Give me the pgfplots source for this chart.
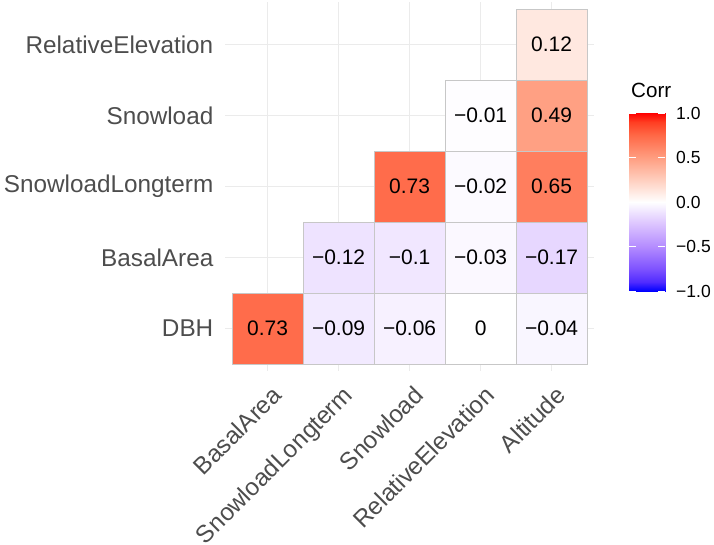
\documentclass[border=0pt]{standalone}
\usepackage{fontspec}
\setmainfont{Liberation Sans}
\usepackage{pgfplots}
\pgfplotsset{compat=1.18}
\definecolor{gridc}{HTML}{EBEBEB}
\definecolor{axtext}{HTML}{4D4D4D}
\pgfplotsset{
  colormap={corr}{rgb255(0cm)=(0,0,255) rgb255(1cm)=(80,43,255) rgb255(2.5cm)=(126,82,255)
    rgb255(5cm)=(179,139,255) rgb255(7.5cm)=(220,196,255) rgb255(10cm)=(255,255,255)
    rgb255(12.5cm)=(255,207,191) rgb255(15cm)=(255,158,129) rgb255(17.5cm)=(255,104,70)
    rgb255(19cm)=(255,62,34) rgb255(20cm)=(255,0,0)}
}
\begin{document}
\begin{tikzpicture}
\useasboundingbox (0,0) rectangle (714pt,-544pt);
\begin{axis}[
  at={(225pt,-371.2pt)}, anchor=south west,
  scale only axis, width=369.2pt, height=369.2pt,
  xmin=0.4, xmax=5.6, ymin=0.4, ymax=5.6,
  xtick={1,2,3,4,5}, ytick={1,2,3,4,5},
  xticklabels={BasalArea,SnowloadLongterm,Snowload,RelativeElevation,Altitude},
  yticklabels={DBH,BasalArea,SnowloadLongterm,Snowload,RelativeElevation},
  grid=major, major grid style={gridc, line width=1.5pt},
  axis line style={draw=none}, major tick length=0pt,
  xticklabel style={xshift=3pt, yshift=-13pt, rotate=45, anchor=north east, inner sep=0pt,
    font=\fontsize{24.3}{29}\selectfont, text=axtext},
  yticklabel style={anchor=east, inner sep=0pt, xshift=-11.5pt,
    font=\fontsize{24.3}{29}\selectfont, text=axtext},
  colormap name=corr,
  point meta min=-1, point meta max=1,
]
\addplot[scatter, only marks, mark=square*, mark size=35.5pt, point meta=explicit,
  scatter/use mapped color={draw=black!22, fill=mapped color},
  mark options={line width=0.8pt}] table[meta=c] {
x y c
1 1 0.73
2 1 -0.09
3 1 -0.06
4 1 0
5 1 -0.04
2 2 -0.12
3 2 -0.1
4 2 -0.03
5 2 -0.17
3 3 0.73
4 3 -0.02
5 3 0.65
4 4 -0.01
5 4 0.49
5 5 0.12
};
\addplot[draw=none, mark=none, nodes near coords, point meta=explicit symbolic,
  nodes near coords align=center,
  every node near coord/.append style={font=\fontsize{21}{25}\selectfont, text=black, inner sep=0pt}]
  table[meta=l] {
x y l
1 1 0.73
2 1 −0.09
3 1 −0.06
4 1 0
5 1 −0.04
2 2 −0.12
3 2 −0.1
4 2 −0.03
5 2 −0.17
3 3 0.73
4 3 −0.02
5 3 0.65
4 4 −0.01
5 4 0.49
5 5 0.12
};
\end{axis}
% colour bar
\begin{axis}[
  at={(629pt,-291pt)}, anchor=south west,
  scale only axis, width=36pt, height=178pt,
  xmin=0, xmax=1, ymin=-1, ymax=1,
  xtick=\empty, ytick={-1,-0.5,0,0.5,1},
  yticklabels={−1.0,−0.5,0.0,0.5,1.0},
  ytick pos=both, yticklabel pos=right,
  yticklabel style={anchor=west, font=\fontsize{17.5}{21}\selectfont, text=black, inner sep=0pt, xshift=11pt},
  axis line style={draw=none},
  major tick length=7pt, tick align=inside,
  major tick style={white, line width=1pt},
  axis on top,
  colormap name=corr, point meta min=-1, point meta max=1,
]
\addplot[surf, shader=interp, point meta=y, mesh/cols=2] table {
x y
0 -1
1 -1

0 -0.9
1 -0.9

0 -0.75
1 -0.75

0 -0.5
1 -0.5

0 -0.25
1 -0.25

0 0
1 0

0 0.25
1 0.25

0 0.5
1 0.5

0 0.75
1 0.75

0 0.9
1 0.9

0 1
1 1
};
\end{axis}
\node[anchor=base west, inner sep=0pt, font=\fontsize{20.6}{24}\selectfont] at (631pt,-97pt) {Corr};
\end{tikzpicture}
\end{document}
